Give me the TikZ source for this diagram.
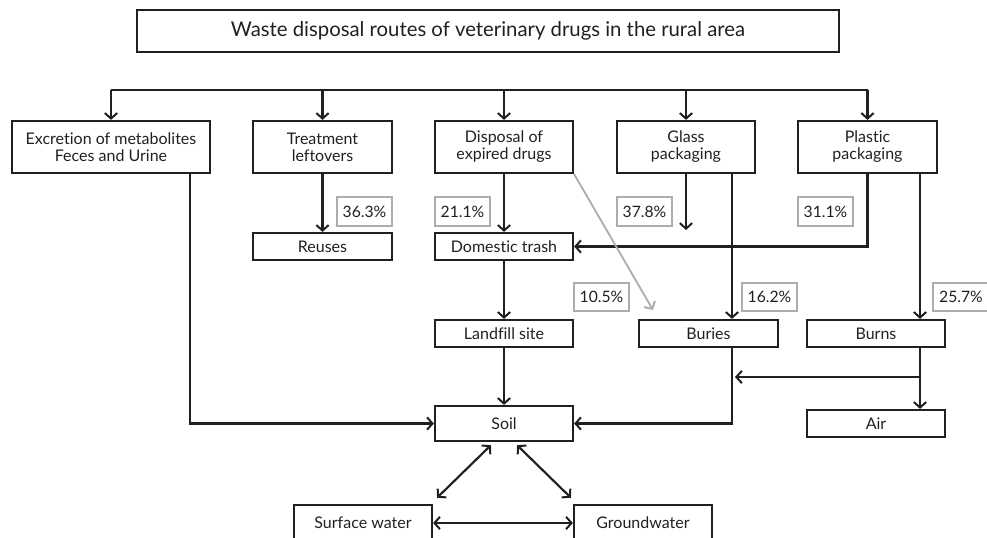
\documentclass[tikz,border=0pt]{standalone}
\usepackage{fontspec}
\setmainfont{Lato}[Ligatures=NoCommon]
\usepackage{tikz}
\usetikzlibrary{arrows.meta}
\usepackage{xcolor}
\definecolor{ink}{HTML}{231F20}
\definecolor{pctgray}{HTML}{ADADAD}

\begin{document}
\begin{tikzpicture}[x=0.65pt,y=-0.65pt,
    >={Straight Barb[length=3.6pt,width=8pt,line width=1.3pt]},
    line width=1.4pt, draw=ink, text=ink,
    box/.style={draw, minimum width=89.7pt, minimum height=17.55pt, inner sep=0pt,
        align=center, font=\fontsize{10.4}{11}\selectfont},
    tallbox/.style={box, minimum height=33.8pt},
    pct/.style={draw=pctgray, line width=1.3pt, minimum width=36pt, minimum height=18.5pt,
        inner sep=0pt, font=\fontsize{10.2}{11}\selectfont}]
                 \useasboundingbox (0,0) rectangle (987,538);

                 % Title
                 \node[box, minimum width=456.3pt, minimum height=27.3pt, font=\fontsize{13.2}{15}\selectfont]
                     (title) at (488,31) {Waste disposal routes of veterinary drugs in the rural area};

                 % Sources
                 \node[tallbox, minimum width=128.7pt] (exc) at (111,147) {Excretion of metabolites\\Feces and Urine};
                 \node[tallbox, minimum width=90.35pt] (treat) at (322.5,147) {Treatment\\leftovers};
                 \node[tallbox] (disp) at (504,147) {Disposal of\\expired drugs};
                 \node[tallbox] (glass) at (686,147) {Glass\\packaging};
                 \node[tallbox, minimum width=90.35pt] (plast) at (867.5,147) {Plastic\\packaging};

                 % Routes
                 \node[box, minimum width=90.35pt] (reuses) at (322.5,246.5) {Reuses};
                 \node[box] (dom) at (504,246.5) {Domestic trash};
                 \node[box] (landfill) at (504,333.5) {Landfill site};
                 \node[box, minimum width=90.35pt] (buries) at (708.5,333.5) {Buries};
                 \node[box] (burns) at (876,333.5) {Burns};
                 \node[box] (air) at (876,423.5) {Air};
                 \node[box, minimum height=22.75pt] (soil) at (504,423.5) {Soil};
                 \node[box, minimum height=23.4pt] (surf) at (363,523) {Surface water};
                 \node[box, minimum height=23.4pt] (ground) at (643,523) {Groundwater};

                 % Percentages
                 \node[pct] (p363) at (364.5,211.5) {36.3\%};
                 \node[pct] (p211) at (462.5,211.5) {21.1\%};
                 \node[pct] (p378) at (644.5,211.5) {37.8\%};
                 \node[pct] (p311) at (825.5,211.5) {31.1\%};
                 \node[pct] (p105) at (601.5,297) {10.5\%};
                 \node[pct] (p162) at (769.5,297) {16.2\%};
                 \node[pct] (p257) at (961,297) {25.7\%};

                 % Helper points
                 \coordinate (busL) at (111,90);
                 \coordinate (busR) at (868,90);
                 \coordinate (excX) at (190,0);
                 \coordinate (glassX) at (732,0);
                 \coordinate (burnX) at (920,0);
                 \coordinate (glassEnd) at (686,230);
                 \coordinate (buryTip) at (653,310);
                 \coordinate (airFork) at (920,377);
                 \coordinate (forkTip) at (735,377);

                 % Bus to sources
                 \draw (busL) -- (busR);
                 \foreach \n in {exc,treat,disp,glass,plast}
                     \draw[->] (\n.north |- busL) -- (\n.north);

                 % Down the chains
                 \draw[->] (treat) -- (reuses);
                 \draw[->] (disp) -- (dom);
                 \draw[->] (glass.south) -- (glassEnd);
                 \draw[->] (glass.south -| glassX) -- (buries.north -| glassX);
                 \draw[->] (plast.south) |- (dom.east);
                 \draw[->] (plast.south -| burnX) -- (burns.north -| burnX);
                 \draw[->] (burns.south -| burnX) -- (air.north -| burnX);
                 \draw[->] (airFork) -- (forkTip);
                 \draw[->] (dom) -- (landfill);
                 \draw[->] (landfill) -- (soil);
                 \draw[->] (buries.south -| glassX) |- (soil.east);
                 \draw[->] (exc.south -| excX) |- (soil.west);

                 % Expired drugs buried
                 \draw[->, draw=pctgray, line width=1.2pt] (disp.south east) -- (buryTip);

                 % Water exchange
                 \draw[<->] ([xshift=-8.5pt,yshift=-2pt]soil.south) -- ([xshift=2.6pt,yshift=4pt]surf.north east);
                 \draw[<->] ([xshift=8.5pt,yshift=-2pt]soil.south) -- ([xshift=-1.3pt,yshift=4pt]ground.north west);
                 \draw[<->] (surf.east) -- (ground.west);
                \end{tikzpicture}
\end{document}
